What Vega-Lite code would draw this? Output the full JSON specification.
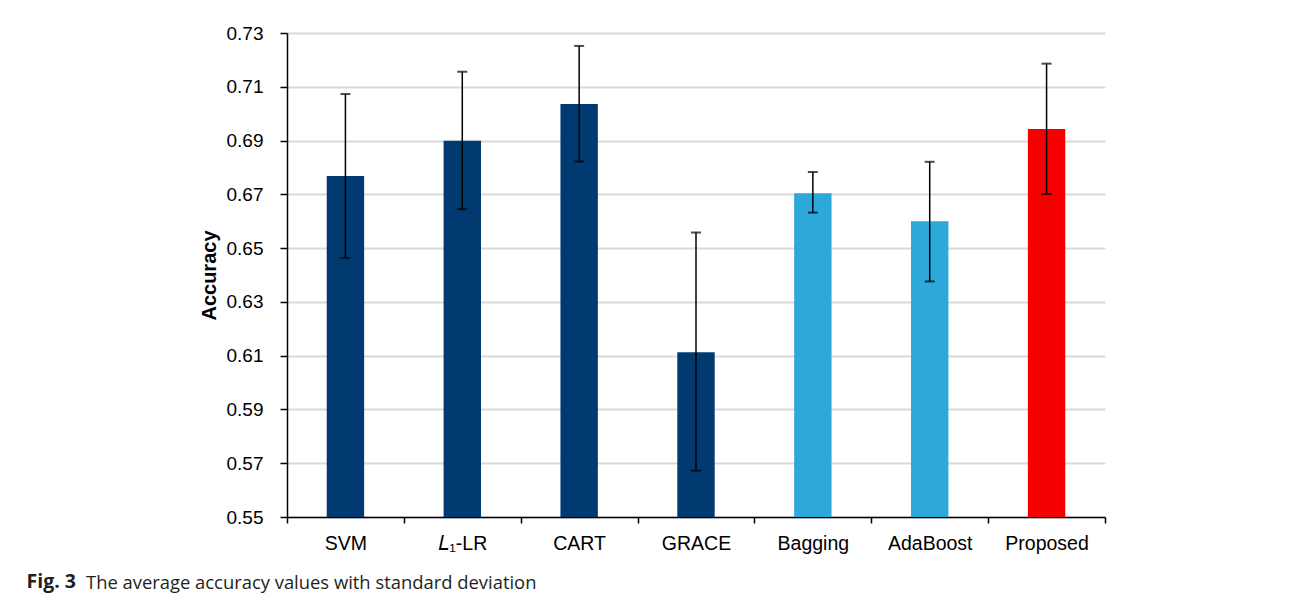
{
  "$schema": "https://vega.github.io/schema/vega-lite/v6.json",
  "width": 818,
  "height": 484,
  "autosize": {"type": "none"},
  "padding": {"left": 287, "top": 33, "right": 190, "bottom": 80},
  "background": "white",
  "config": {
    "view": {"stroke": null},
    "font": "Liberation Sans"
  },
  "title": {
    "text": "The average accuracy values with standard deviation",
    "orient": "bottom",
    "anchor": "start",
    "frame": "group",
    "font": "Open Sans",
    "fontSize": 18.4,
    "fontWeight": "normal",
    "color": "#231f20",
    "dx": -201,
    "offset": -17
  },
  "data": {
    "values": [
      {"method": "SVM", "acc": 0.6768, "lo": 0.6463, "hi": 0.7073, "group": "base"},
      {"method": "𝐿₁-LR", "acc": 0.6899, "lo": 0.6645, "hi": 0.7156, "group": "base"},
      {"method": "CART", "acc": 0.7036, "lo": 0.6822, "hi": 0.7252, "group": "base"},
      {"method": "GRACE", "acc": 0.6113, "lo": 0.5672, "hi": 0.6558, "group": "base"},
      {"method": "Bagging", "acc": 0.6704, "lo": 0.6632, "hi": 0.6783, "group": "ensemble"},
      {"method": "AdaBoost", "acc": 0.6600, "lo": 0.6376, "hi": 0.6821, "group": "ensemble"},
      {"method": "Proposed", "acc": 0.6943, "lo": 0.6701, "hi": 0.7186, "group": "proposed"}
    ]
  },
  "encoding": {
    "x": {
      "field": "method",
      "type": "nominal",
      "sort": null,
      "scale": {"paddingInner": 0, "paddingOuter": 0},
      "axis": {
        "title": "Fig. 3",
        "titleFont": "Open Sans",
        "titleFontSize": 19.5,
        "titleFontWeight": "bold",
        "titleColor": "#231f20",
        "titleX": -261,
        "titleY": 70,
        "titleAlign": "left",
        "titleBaseline": "alphabetic",
        "titleAnchor": null,
        "labelAngle": 0,
        "labelFontSize": 19.5,
        "labelColor": "black",
        "labelPadding": 11,
        "tickBand": "extent",
        "tickSize": 6,
        "tickColor": "black",
        "tickWidth": 1.5,
        "domainColor": "black",
        "domainWidth": 1.5,
        "grid": false
      }
    }
  },
  "layer": [
    {
      "mark": {"type": "bar", "width": {"band": 0.32}, "clip": true},
      "encoding": {
        "y": {
          "field": "acc",
          "type": "quantitative",
          "scale": {"domain": [0.55, 0.73], "nice": false, "zero": false},
          "axis": {
            "title": "Accuracy",
            "titleFontSize": 20,
            "titleFontWeight": "bold",
            "titleColor": "black",
            "titlePadding": 7,
            "values": [0.55, 0.57, 0.59, 0.61, 0.63, 0.65, 0.67, 0.69, 0.71, 0.73],
            "format": ".2f",
            "labelFontSize": 19,
            "labelColor": "black",
            "labelPadding": 17,
            "tickSize": 7,
            "tickColor": "black",
            "tickWidth": 1.5,
            "domainColor": "black",
            "domainWidth": 1.5,
            "gridColor": "#d9d9d9",
            "gridWidth": 2
          }
        },
        "color": {
          "field": "group",
          "type": "nominal",
          "scale": {"domain": ["base", "ensemble", "proposed"], "range": ["#003a70", "#2ca8db", "#f50000"]},
          "legend": null
        }
      }
    },
    {
      "mark": {"type": "rule", "color": "black", "strokeWidth": 1.5},
      "encoding": {
        "y": {"field": "lo", "type": "quantitative"},
        "y2": {"field": "hi"}
      }
    },
    {
      "mark": {"type": "tick", "color": "black", "size": 10, "thickness": 2},
      "encoding": {"y": {"field": "lo", "type": "quantitative"}}
    },
    {
      "mark": {"type": "tick", "color": "black", "size": 10, "thickness": 2},
      "encoding": {"y": {"field": "hi", "type": "quantitative"}}
    }
  ]
}
